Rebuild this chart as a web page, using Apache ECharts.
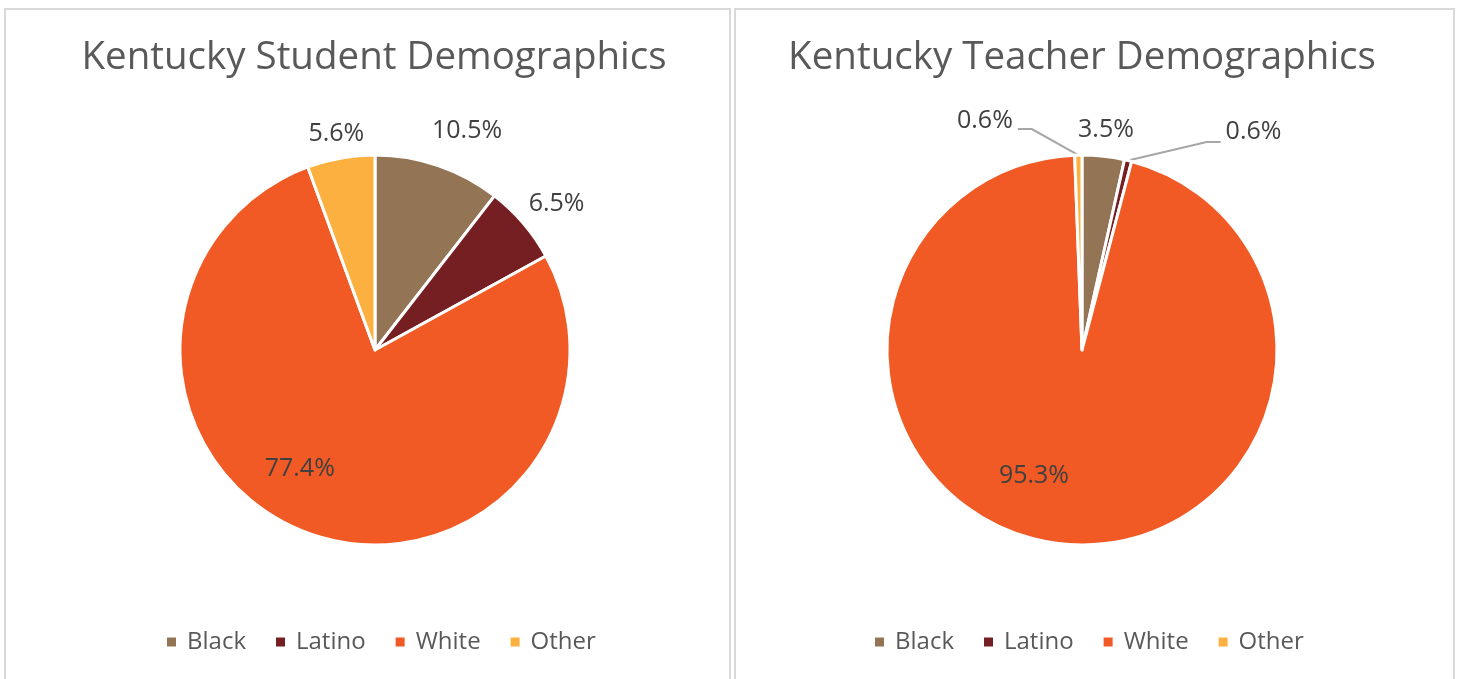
<!DOCTYPE html>
<html>
<head>
<meta charset="utf-8">
<title>Kentucky Demographics</title>
<script src="https://cdn.jsdelivr.net/npm/echarts@6/dist/echarts.min.js"></script>
<style>
  html, body { margin: 0; padding: 0; background: #fff; }
  #chart { width: 1457px; height: 679px; }
</style>
</head>
<body>
<div id="chart"></div>
<script>
// data
var groups = ['Black', 'Latino', 'White', 'Other'];
var studentValues = [10.5, 6.5, 77.4, 5.6];
var teacherValues = [3.5, 0.6, 95.3, 0.6];
var titles = ['Kentucky Student Demographics', 'Kentucky Teacher Demographics'];

var colors = ['#937455', '#761f23', '#f15a24', '#fbb040'];
var font = '"Open Sans", sans-serif';

// label placement per slice (pixel nudges to mimic the Excel best-fit layout)
var studentLabels = [
  { position: 'outside', offset: [-16, -20], line: { show: false, length: 15, length2: 0 } },
  { position: 'outside', offset: [-11, -10], line: { show: false, length: 15, length2: 0 } },
  { position: 'inside', offset: [-40, 25], line: { show: false } },
  { position: 'outside', offset: [31, -9], line: { show: false, length: 15, length2: 0 } }
];
var teacherLabels = [
  { position: 'outside', offset: [-32, -11], line: { show: false, length: 15, length2: 0 } },
  { position: 'outside', offset: [0, -10], line: { show: true, length: 19, length2: 88 } },
  { position: 'inside', offset: [-37, 26], line: { show: false } },
  { position: 'outside', offset: [0, -8], line: { show: true, length: 26, length2: 60 } }
];

function buildData(values, labels) {
  return values.map(function (v, i) {
    return {
      name: groups[i],
      value: v,
      label: { position: labels[i].position, offset: labels[i].offset },
      labelLine: labels[i].line
    };
  });
}

// Excel draws the leader line diagonally from the slice, then a short flat tail
function excelLeader(params) {
  var pts = params.labelLinePoints;
  if (!pts || pts.length < 3) return {};
  var end = pts[2];
  var dir = end[0] >= pts[0][0] ? 1 : -1;
  return {
    labelLinePoints: [pts[0], [end[0] - dir * 14, end[1]], end]
  };
}

function pieSeries(values, labels, cx) {
  return {
    type: 'pie',
    center: [cx, 350],
    radius: [0, 195],
    startAngle: 90,
    clockwise: true,
    avoidLabelOverlap: false,
    silent: true,
    itemStyle: { borderColor: '#ffffff', borderWidth: 3 },
    label: {
      show: true,
      formatter: function (p) { return p.value.toFixed(1) + '%'; },
      fontFamily: font,
      fontSize: 25,
      color: '#404040',
      distanceToLabelLine: 5
    },
    labelLine: {
      lineStyle: { color: '#a6a6a6', width: 2 },
      smooth: false
    },
    labelLayout: excelLeader,
    emphasis: { disabled: true },
    data: buildData(values, labels)
  };
}

function legendAt(left) {
  return {
    left: left,
    top: 626,
    padding: 0,
    orient: 'horizontal',
    icon: 'rect',
    itemWidth: 11,
    itemHeight: 11,
    itemGap: 28,
    selectedMode: false,
    data: groups,
    textStyle: {
      fontFamily: font,
      fontSize: 24,
      color: '#595959',
      lineHeight: 32,
      padding: [0, 0, 0, 5]
    }
  };
}

var chart = echarts.init(document.getElementById('chart'), null, { renderer: 'canvas' });

var option = {
  backgroundColor: '#ffffff',
  color: colors,
  animation: false,
  graphic: [
    { type: 'rect', shape: { x: 5, y: 9, width: 725, height: 690 }, style: { fill: 'none', stroke: '#d9d9d9', lineWidth: 2 }, silent: true },
    { type: 'rect', shape: { x: 735, y: 9, width: 719, height: 690 }, style: { fill: 'none', stroke: '#d9d9d9', lineWidth: 2 }, silent: true }
  ],
  title: [
    {
      text: titles[0], left: 369, top: 53, textAlign: 'center', textVerticalAlign: 'middle',
      textStyle: { fontFamily: font, fontSize: 38.5, fontWeight: 'normal', color: '#595959' }
    },
    {
      text: titles[1], left: 1077, top: 53, textAlign: 'center', textVerticalAlign: 'middle',
      textStyle: { fontFamily: font, fontSize: 38.5, fontWeight: 'normal', color: '#595959' }
    }
  ],
  legend: [legendAt(165), legendAt(873)],
  series: [
    pieSeries(studentValues, studentLabels, 375),
    pieSeries(teacherValues, teacherLabels, 1082)
  ]
};

chart.setOption(option);
</script>
</body>
</html>
